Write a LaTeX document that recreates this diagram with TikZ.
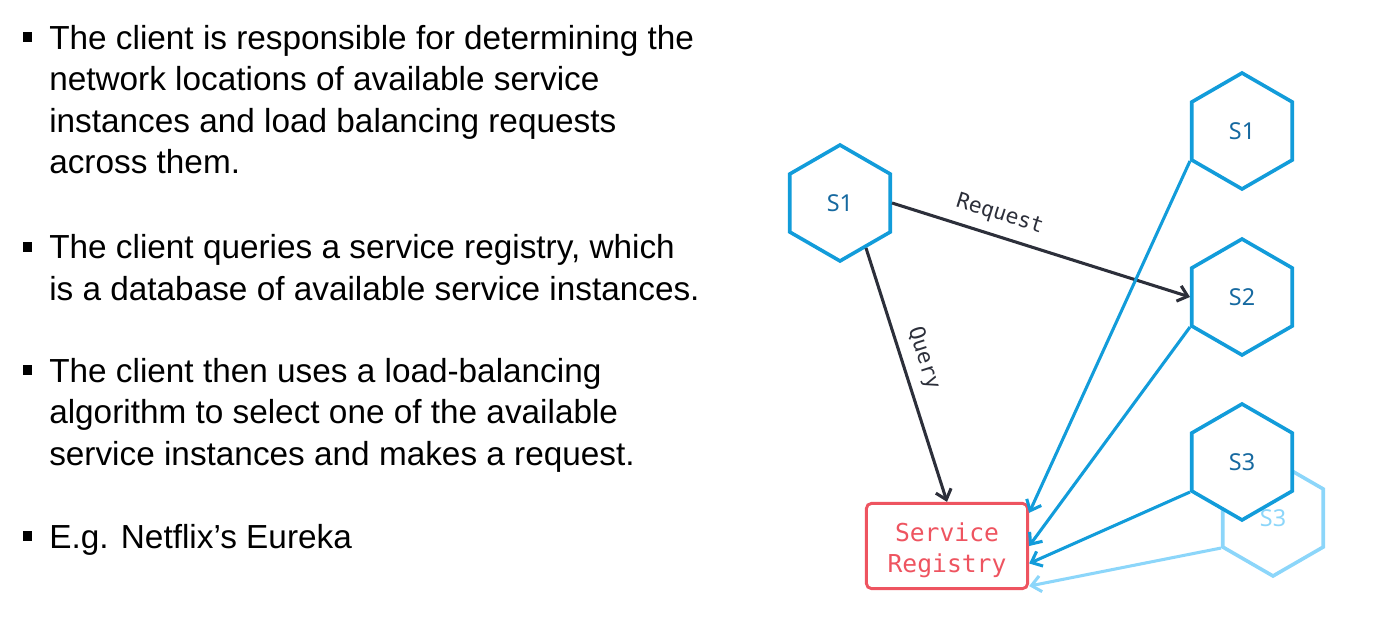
\documentclass[tikz,border=0pt]{standalone}
\usepackage{fontspec}
\setmainfont{Liberation Sans}
\newfontfamily\regmono{DejaVu Sans Mono}
\newfontfamily\hexsans{Noto Sans}
\usetikzlibrary{shapes.geometric,arrows.meta}

\definecolor{hexblue}{RGB}{18,156,218}
\definecolor{hexghost}{RGB}{140,214,250}
\definecolor{hextext}{RGB}{22,105,160}
\definecolor{arrowdark}{RGB}{44,47,58}
\definecolor{regred}{RGB}{238,84,96}

\begin{document}
\begin{tikzpicture}[x=0.75pt,y=-0.75pt,
    bullettext/.style={anchor=base west,align=left,inner sep=0pt,
        font=\fontsize{25}{31}\selectfont},
    bulletsq/.style={fill=black,minimum width=6.75pt,minimum height=7.5pt,inner sep=0pt},
    hexnode/.style={draw=hexblue,line width=2.7pt,fill=white,regular polygon,
        regular polygon sides=6,shape border rotate=30,minimum size=87pt,inner sep=0pt,
        text=hextext,font=\hexsans\fontsize{17.5}{20}\selectfont},
    ghost/.style={hexnode,draw=hexghost,text=hexghost},
    regbox/.style={draw=regred,line width=2.2pt,rounded corners=4pt,minimum width=121pt,
        minimum height=64pt,align=center,text=regred,
        font=\regmono\fontsize{18.5}{23}\selectfont},
    flow/.style={-{Straight Barb[length=7pt,width=12pt]},line width=2.3pt,arrowdark},
    regarrow/.style={flow,hexblue},
    lbl/.style={sloped,above=4pt,font=\regmono\fontsize{16}{18}\selectfont,text=arrowdark}
]
    \useasboundingbox (0,0) rectangle (1376,617);

    % --- left column: bullet list (base = last line) ---
    \foreach \y/\n in {37/1, 247/2, 370/3, 536/4} {
        \node[bulletsq] (sq\n) at (27.5,\y) {};
    }
    \node[bullettext] (b1) at (49,173.5) {The client is responsible for determining the\\
        network locations of available service\\
        instances and load balancing requests\\
        across them.};
    \node[bullettext] (b2) at (49,300) {The client queries a service registry, which\\
        is a database of available service instances.};
    \node[bullettext] (b3) at (49,465) {The client then uses a load-balancing\\
        algorithm to select one of the available\\
        service instances and makes a request.};
    \node[bullettext] (b4) at (49,548) {E.g. Netflix’s Eureka};

    % --- services and registry ---
    \node[ghost] (S3b) at (1273,518) {S3};
    \node[hexnode] (S1a) at (840,203) {S1};
    \node[hexnode] (S1b) at (1242,131) {S1};
    \node[hexnode] (S2) at (1242,297) {S2};
    \node[hexnode] (S3a) at (1242,462) {S3};
    \node[regbox] (reg) at (947,546) {\rule{0pt}{20pt}Service\\Registry};

    % --- client: query and request ---
    \draw[flow] (S1a.east) -- node[lbl,pos=0.34] (req) {Request} (S2.west);
    \draw[flow] (S1a.-60) -- node[lbl,pos=0.46] (qry) {Query} (reg.north);

    % --- instances register themselves ---
    \draw[regarrow] (S1b.210) -- (reg.22);
    \draw[regarrow] (S2.210) -- (reg.east);
    \draw[regarrow] (S3a.210) -- (reg.-12);
    \draw[regarrow,hexghost] (S3b.210) -- (reg.-26);
\end{tikzpicture}
\end{document}
